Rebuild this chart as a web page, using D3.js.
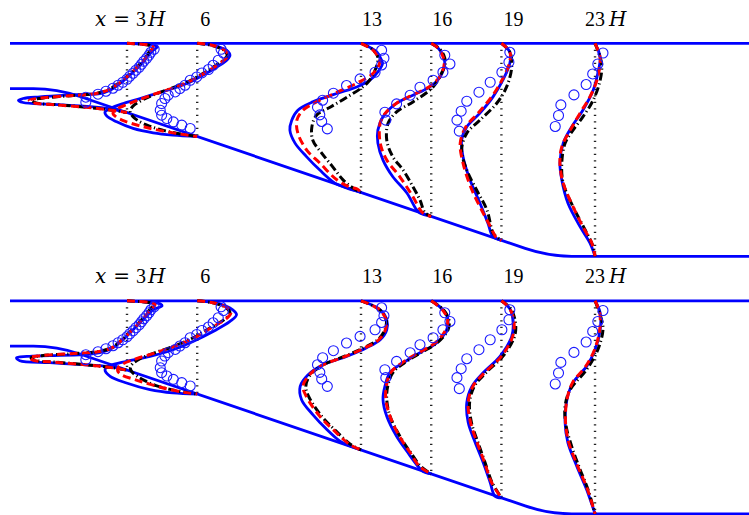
<!DOCTYPE html>
<html>
<head>
<meta charset="utf-8">
<script src="https://cdn.jsdelivr.net/npm/d3@7"></script>
<style>
  html, body { margin: 0; padding: 0; background: #fff; }
  svg { display: block; }
</style>
</head>
<body>
<script>
// Streamwise stations (x/H) where profiles are sampled
const stations = [3, 6, 13, 16, 19, 23];
const stationLabels = ["x = 3H", "6", "13", "16", "19", "23H"];

// Diffuser geometry (units of inlet height H)
const inletStart = -2, rampStart = 0, rampEnd = 21, outletEnd = 29.58;
const topWallY = 1, inletFloorY = 0, outletFloorY = -3.7;

// Profiles: pairs [y/H, value]; value is the profile amplitude (1 unit = 2H offset)
// Upper case: LES (solid), model 1 (dashed), model 2 (dash-dot)
const lesA = [
  [[1,0],[.978,.38],[.956,.58],[.918,.64],[.846,.56],[.698,.43],[.515,.28],[.295,.06],[.112,-.15],[-.035,-.36],[-.108,-.58],[-.123,-.86],[-.145,-1.29],[-.183,-1.86],[-.218,-2.22],[-.256,-2.32],[-.306,-2.22],[-.344,-1.65],[-.388,-.93],[-.438,-.43],[-.529,0]],
  [[1,0],[.956,.34],[.846,.63],[.736,.70],[.626,.63],[.478,.42],[.295,.12],[.148,-.15],[.002,-.52],[-.108,-.87],[-.218,-1.22],[-.328,-1.58],[-.438,-1.86],[-.513,-1.97],[-.608,-1.93],[-.733,-1.72],[-.879,-1.37],[-.976,-.94],[-1.026,-.52],[-1.057,0]],
  [[1,0],[.808,.34],[.625,.44],[.553,.46],[.368,.36],[.185,.19],[.037,-.09],[-.108,-.52],[-.293,-1.03],[-.476,-1.35],[-.696,-1.48],[-.917,-1.52],[-1.203,-1.41],[-1.505,-1.16],[-1.798,-.88],[-2.084,-.56],[-2.194,-.31],[-2.290,0]],
  [[1,0],[.890,.15],[.736,.25],[.559,.29],[.258,.19],[.037,-.03],[-.145,-.39],[-.322,-.74],[-.623,-1.03],[-.916,-1.14],[-1.203,-1.14],[-1.577,-1.03],[-1.945,-.82],[-2.304,-.52],[-2.678,-.31],[-2.744,-.24],[-2.819,0]],
  [[1,0],[.808,.18],[.559,.18],[.185,.03],[-.183,-.18],[-.542,-.46],[-.844,-.74],[-1.137,-.85],[-1.504,-.82],[-2.018,-.67],[-2.524,-.46],[-2.965,-.29],[-3.266,-.18],[-3.348,0]],
  [[1,0],[.698,.11],[.339,.06],[-.035,-.04],[-.476,-.26],[-.844,-.50],[-1.203,-.68],[-1.643,-.75],[-2.018,-.71],[-2.524,-.58],[-3.046,-.32],[-3.405,-.11],[-3.7,0]]
];
const redA = [
  [[1,0],[.956,.49],[.912,.56],[.824,.49],[.692,.41],[.515,.26],[.295,.04],[.119,-.17],[-.035,-.41],[-.112,-.68],[-.156,-1.22],[-.211,-1.86],[-.256,-2.09],[-.311,-2.01],[-.355,-1.54],[-.410,-.90],[-.465,-.41],[-.529,0]],
  [[1,0],[.956,.32],[.846,.59],[.736,.66],[.626,.57],[.471,.36],[.295,.08],[.141,-.20],[-.002,-.56],[-.123,-.92],[-.256,-1.27],[-.366,-1.54],[-.465,-1.74],[-.542,-1.80],[-.619,-1.74],[-.718,-1.55],[-.828,-1.20],[-.927,-.78],[-1.004,-.35],[-1.057,0]],
  [[1,0],[.824,.28],[.588,.40],[.339,.26],[.119,-.09],[-.079,-.51],[-.293,-.95],[-.476,-1.24],[-.696,-1.37],[-.982,-1.35],[-1.357,-1.16],[-1.643,-.88],[-2.018,-.51],[-2.172,-.24],[-2.216,-.08],[-2.290,0]],
  [[1,0],[.890,.15],[.736,.24],[.559,.28],[.258,.18],[.037,-.05],[-.145,-.41],[-.322,-.74],[-.542,-.98],[-.762,-1.09],[-1.203,-1.09],[-1.577,-.95],[-1.945,-.67],[-2.385,-.39],[-2.744,-.18],[-2.819,0]],
  [[1,0],[.808,.18],[.559,.17],[.185,.01],[-.183,-.21],[-.542,-.50],[-.844,-.76],[-1.203,-.88],[-1.643,-.82],[-2.238,-.63],[-2.744,-.39],[-3.075,-.22],[-3.273,-.12],[-3.348,0]],
  [[1,0],[.670,.11],[.185,.04],[-.183,-.11],[-.542,-.32],[-.916,-.53],[-1.284,-.71],[-1.643,-.75],[-2.084,-.68],[-2.606,-.47],[-3.046,-.26],[-3.405,-.07],[-3.7,0]]
];
const blackA = [
  [[1,0],[.956,.47],[.912,.54],[.824,.48],[.692,.40],[.515,.25],[.295,.03],[.119,-.18],[-.035,-.42],[-.112,-.70],[-.156,-1.20],[-.211,-1.82],[-.256,-2.04],[-.311,-1.96],[-.355,-1.50],[-.410,-.88],[-.465,-.40],[-.529,0]],
  [[1,0],[.956,.30],[.846,.57],[.736,.64],[.626,.55],[.471,.34],[.295,.06],[.141,-.22],[-.002,-.58],[-.123,-.90],[-.256,-1.18],[-.366,-1.35],[-.454,-1.42],[-.520,-1.43],[-.608,-1.38],[-.718,-1.25],[-.828,-1.02],[-.927,-.70],[-1.004,-.33],[-1.057,0]],
  [[1,0],[.868,.24],[.692,.36],[.405,.30],[.119,.13],[-.189,-.30],[-.410,-.66],[-.586,-.95],[-.844,-1.05],[-1.137,-1.03],[-1.423,-.84],[-1.731,-.60],[-2.018,-.38],[-2.194,-.17],[-2.290,0]],
  [[1,0],[.890,.17],[.736,.27],[.559,.30],[.339,.22],[.037,.04],[-.293,-.39],[-.513,-.74],[-.762,-.92],[-1.137,-.95],[-1.504,-.82],[-1.797,-.60],[-2.165,-.39],[-2.458,-.24],[-2.744,-.13],[-2.819,0]],
  [[1,0],[.808,.18],[.478,.22],[.037,.11],[-.322,-.10],[-.696,-.46],[-.982,-.74],[-1.357,-.85],[-1.797,-.74],[-2.238,-.53],[-2.678,-.31],[-3.185,-.18],[-3.273,-.10],[-3.348,0]],
  [[1,0],[.559,.14],[.185,.11],[-.256,-.04],[-.623,-.26],[-.916,-.47],[-1.203,-.64],[-1.643,-.71],[-2.084,-.68],[-2.606,-.47],[-3.119,-.21],[-3.487,-.04],[-3.7,0]]
];

// Lower case: same three curves
const lesB = [
  [[1,0],[.967,.49],[.934,.71],[.890,.75],[.802,.56],[.582,.34],[.361,.13],[.141,-.09],[-.035,-.30],[-.145,-.58],[-.189,-.94],[-.211,-1.65],[-.227,-2.14],[-.256,-2.36],[-.322,-2.29],[-.366,-1.65],[-.410,-.94],[-.447,-.43],[-.529,0]],
  [[1,0],[.949,.42],[.802,.76],[.692,.84],[.544,.70],[.324,.34],[.104,-.09],[-.079,-.52],[-.227,-1.01],[-.337,-1.51],[-.432,-1.86],[-.520,-1.97],[-.667,-1.86],[-.813,-1.51],[-.960,-1.01],[-1.033,-.52],[-1.057,0]],
  [[1,0],[.802,.41],[.582,.55],[.361,.55],[.141,.41],[-.035,.12],[-.227,-.31],[-.410,-.81],[-.630,-1.13],[-.888,-1.30],[-1.181,-1.27],[-1.511,-1.03],[-1.841,-.73],[-2.099,-.45],[-2.172,-.31],[-2.290,0]],
  [[1,0],[.802,.25],[.582,.36],[.361,.33],[.075,.12],[-.145,-.24],[-.366,-.60],[-.586,-.88],[-.888,-.99],[-1.181,-1.03],[-1.548,-.95],[-1.989,-.74],[-2.348,-.50],[-2.656,-.28],[-2.760,-.18],[-2.819,0]],
  [[1,0],[.824,.18],[.515,.25],[.214,.22],[-.227,-.03],[-.586,-.39],[-.888,-.63],[-1.247,-.74],[-1.687,-.71],[-2.128,-.56],[-2.568,-.39],[-3.009,-.24],[-3.310,-.14],[-3.348,0]],
  [[1,0],[.736,.11],[.361,.11],[-.079,0],[-.447,-.18],[-.806,-.47],[-1.181,-.60],[-1.687,-.64],[-2.128,-.58],[-2.650,-.39],[-3.163,-.18],[-3.515,-.06],[-3.7,0]]
];
const redB = [
  [[1,0],[.956,.52],[.912,.60],[.824,.52],[.604,.34],[.361,.12],[.141,-.10],[-.035,-.32],[-.123,-.62],[-.167,-1.20],[-.211,-1.85],[-.256,-2.08],[-.311,-2.00],[-.355,-1.55],[-.410,-.90],[-.465,-.40],[-.529,0]],
  [[1,0],[.956,.34],[.846,.64],[.736,.72],[.604,.62],[.405,.30],[.185,-.06],[.009,-.45],[-.145,-.88],[-.278,-1.30],[-.388,-1.58],[-.476,-1.69],[-.542,-1.70],[-.630,-1.62],[-.740,-1.33],[-.850,-.98],[-.960,-.58],[-1.026,-.24],[-1.057,0]],
  [[1,0],[.802,.40],[.582,.53],[.361,.52],[.141,.38],[-.035,.09],[-.227,-.33],[-.410,-.80],[-.630,-1.10],[-.888,-1.24],[-1.108,-1.17],[-1.548,-.88],[-1.907,-.53],[-2.172,-.24],[-2.290,0]],
  [[1,0],[.802,.24],[.582,.35],[.361,.31],[.075,.09],[-.145,-.27],[-.366,-.62],[-.586,-.87],[-.888,-.96],[-1.181,-.97],[-1.548,-.88],[-1.989,-.68],[-2.348,-.45],[-2.656,-.25],[-2.819,0]],
  [[1,0],[.824,.18],[.515,.27],[.214,.24],[-.227,0],[-.586,-.36],[-.888,-.61],[-1.247,-.71],[-1.687,-.66],[-2.128,-.52],[-2.568,-.36],[-3.009,-.21],[-3.348,0]],
  [[1,0],[.736,.10],[.361,.10],[-.079,-.01],[-.447,-.20],[-.806,-.48],[-1.181,-.60],[-1.687,-.63],[-2.128,-.56],[-2.650,-.37],[-3.163,-.16],[-3.7,0]]
];
const blackB = [
  [[1,0],[.956,.50],[.912,.58],[.824,.50],[.604,.33],[.361,.11],[.141,-.11],[-.035,-.33],[-.123,-.64],[-.167,-1.18],[-.211,-1.82],[-.256,-2.05],[-.311,-1.97],[-.355,-1.52],[-.410,-.88],[-.465,-.39],[-.529,0]],
  [[1,0],[.956,.33],[.846,.62],[.736,.70],[.604,.60],[.405,.28],[.185,-.08],[.009,-.47],[-.145,-.90],[-.278,-1.22],[-.388,-1.38],[-.476,-1.43],[-.564,-1.40],[-.652,-1.30],[-.762,-1.12],[-.872,-.88],[-.960,-.55],[-1.026,-.22],[-1.057,0]],
  [[1,0],[.802,.40],[.582,.54],[.361,.51],[.141,.36],[-.035,.06],[-.227,-.36],[-.410,-.80],[-.630,-1.08],[-.888,-1.18],[-1.108,-1.12],[-1.548,-.84],[-1.907,-.50],[-2.172,-.22],[-2.290,0]],
  [[1,0],[.802,.26],[.582,.38],[.361,.36],[.075,.13],[-.145,-.22],[-.366,-.57],[-.586,-.82],[-.888,-.93],[-1.181,-.95],[-1.548,-.88],[-1.989,-.67],[-2.348,-.44],[-2.656,-.22],[-2.819,0]],
  [[1,0],[.824,.20],[.515,.30],[.214,.28],[-.227,.03],[-.586,-.33],[-.888,-.58],[-1.247,-.68],[-1.687,-.64],[-2.128,-.50],[-2.568,-.35],[-3.009,-.20],[-3.348,0]],
  [[1,0],[.582,.14],[.361,.17],[-.079,.06],[-.520,-.18],[-.960,-.53],[-1.328,-.64],[-1.753,-.62],[-2.209,-.50],[-2.722,-.32],[-3.163,-.15],[-3.7,0]]
];

// Measurements (circles), shown in both cases
const measured = [
  [[.868,.58],[.802,.51],[.736,.47],[.670,.42],[.604,.36],[.537,.31],[.471,.26],[.405,.19],[.339,.13],[.273,.06],[.207,0],[.141,-.09],[.075,-.19],[.009,-.30],[-.057,-.45],[-.123,-.62],[-.189,-.88],[-.300,-.88]],
  [[.868,.51],[.786,.56],[.626,.45],[.515,.34],[.421,.24],[.346,.10],[.258,-.01],[.185,-.15],[.075,-.26],[.002,-.37],[-.073,-.47],[-.145,-.62],[-.218,-.69],[-.328,-.76],[-.476,-.79],[-.586,-.76],[-.659,-.65],[-.733,-.51],[-.806,-.33],[-.879,-.15]],
  [[.846,.44],[.670,.49],[.522,.44],[.361,.30],[.214,-.02],[.068,-.31],[-.101,-.59],[-.256,-.82],[-.410,-.93],[-.579,-.88],[-.725,-.84],[-.888,-.72]],
  [[.736,.29],[.544,.40],[.361,.25],[.185,.04],[.031,-.24],[-.145,-.45],[-.337,-.74],[-.520,-.99],[-.696,-.97]],
  [[.802,.18],[.582,.16],[.361,.01],[.141,-.24],[-.079,-.48],[-.278,-.74],[-.498,-.86],[-.696,-.95],[-.938,-.90]],
  [[.786,.17],[.544,.06],[.324,-.05],[.090,-.19],[-.139,-.45],[-.359,-.73],[-.593,-.78],[-.835,-.85]]
];

const W = 749, Hgt = 515;
const svg = d3.select("body").append("svg").attr("width", W).attr("height", Hgt);

const x = d3.scaleLinear().domain([inletStart, outletEnd]).range([10, 749]);
const amp = d3.scaleLinear().domain([0, 1]).range([0, 2]);   // profile value -> offset in H

// Floor height along the diffuser
function floorY(xs) {
  if (xs <= rampStart) return inletFloorY;
  if (xs >= rampEnd) return outletFloorY;
  return inletFloorY + (outletFloorY - inletFloorY) * (xs - rampStart) / (rampEnd - rampStart);
}

const cases = [
  { top: 43.3, les: lesA, red: redA, black: blackA },
  { top: 300.8, les: lesB, red: redB, black: blackB }
];
const panelHeight = 213;

// label layout: start offset from station line (px) and gaps between runs (px)
const labelDx = [-32, 3, 1, 1, 2, -10];
const runGap = { "x = 3H": [0, 7, 6, 2], "23H": [0, 4] };
const serif = "'Liberation Serif', 'Times New Roman', serif";
const mathSerif = "'DejaVu Serif', serif";

// split label into runs: italic letters, '=' sign, upright digits
function splitRuns(s) {
  return s.replace(/ /g, "").match(/[A-Za-z]+|=|[0-9]+/g);
}

cases.forEach(c => {
  const y = d3.scaleLinear().domain([outletFloorY, topWallY]).range([c.top + panelHeight, c.top]);
  const g = svg.append("g");

  // station lines
  g.selectAll("line.station").data(stations).join("line")
    .attr("class", "station")
    .attr("x1", d => x(d)).attr("x2", d => x(d))
    .attr("y1", y(topWallY)).attr("y2", d => y(floorY(d)))
    .attr("stroke", "#222").attr("stroke-width", 2.4)
    .attr("stroke-dasharray", "1.1,5.4");

  // walls
  g.append("line")
    .attr("x1", x(inletStart)).attr("x2", x(outletEnd))
    .attr("y1", y(topWallY)).attr("y2", y(topWallY))
    .attr("stroke", "#0000ff").attr("stroke-width", 2.8);

  const t = 1.0;                                   // corner blend length (H)
  const ang = Math.atan2(inletFloorY - outletFloorY, rampEnd - rampStart);
  const p = d3.path();
  p.moveTo(x(inletStart), y(inletFloorY));
  p.lineTo(x(rampStart - t), y(inletFloorY));
  p.quadraticCurveTo(x(rampStart), y(inletFloorY),
    x(rampStart + t * Math.cos(ang)), y(inletFloorY - t * Math.sin(ang)));
  p.lineTo(x(rampEnd - t * Math.cos(ang)), y(outletFloorY + t * Math.sin(ang)));
  p.quadraticCurveTo(x(rampEnd), y(outletFloorY), x(rampEnd + t), y(outletFloorY));
  p.lineTo(x(outletEnd), y(outletFloorY));
  g.append("path").attr("d", p.toString())
    .attr("fill", "none").attr("stroke", "#0000ff").attr("stroke-width", 2.8);

  const profileLine = st => d3.line()
    .x(d => x(st + amp(d[1])))
    .y(d => y(d[0]))
    .curve(d3.curveCatmullRom.alpha(0.5));

  const drawSet = (sets, color, width, dash) => {
    sets.forEach((prof, i) => {
      g.append("path")
        .attr("d", profileLine(stations[i])(prof))
        .attr("fill", "none")
        .attr("stroke", color)
        .attr("stroke-width", width)
        .attr("stroke-linejoin", "round")
        .attr("stroke-dasharray", dash);
    });
  };
  drawSet(c.les, "#0000ff", 2.8, null);
  drawSet(c.black, "#000000", 3, "8,3,1.2,3");
  drawSet(c.red, "#ff0000", 3, "8,4.5");

  // measured points
  measured.forEach((pts, i) => {
    g.selectAll(null).data(pts).join("circle")
      .attr("cx", d => x(stations[i] + amp(d[1])))
      .attr("cy", d => y(d[0]))
      .attr("r", 5)
      .attr("fill", "none")
      .attr("stroke", "#1a1aff")
      .attr("stroke-width", 1.1);
  });

  // station labels
  stationLabels.forEach((lab, i) => {
    const txt = g.append("text")
      .attr("x", x(stations[i]) + labelDx[i])
      .attr("y", c.top - 17.6)
      .attr("font-size", 20)
      .attr("fill", "#000");
    const gaps = runGap[lab] || [];
    splitRuns(lab).forEach((r, k) => {
      const isLetter = /[A-Za-z]/.test(r);
      txt.append("tspan")
        .attr("dx", gaps[k] || 0)
        .attr("font-family", isLetter || r === "=" ? mathSerif : serif)
        .attr("font-style", isLetter ? "italic" : "normal")
        .text(r);
    });
  });
});
</script>
</body>
</html>
